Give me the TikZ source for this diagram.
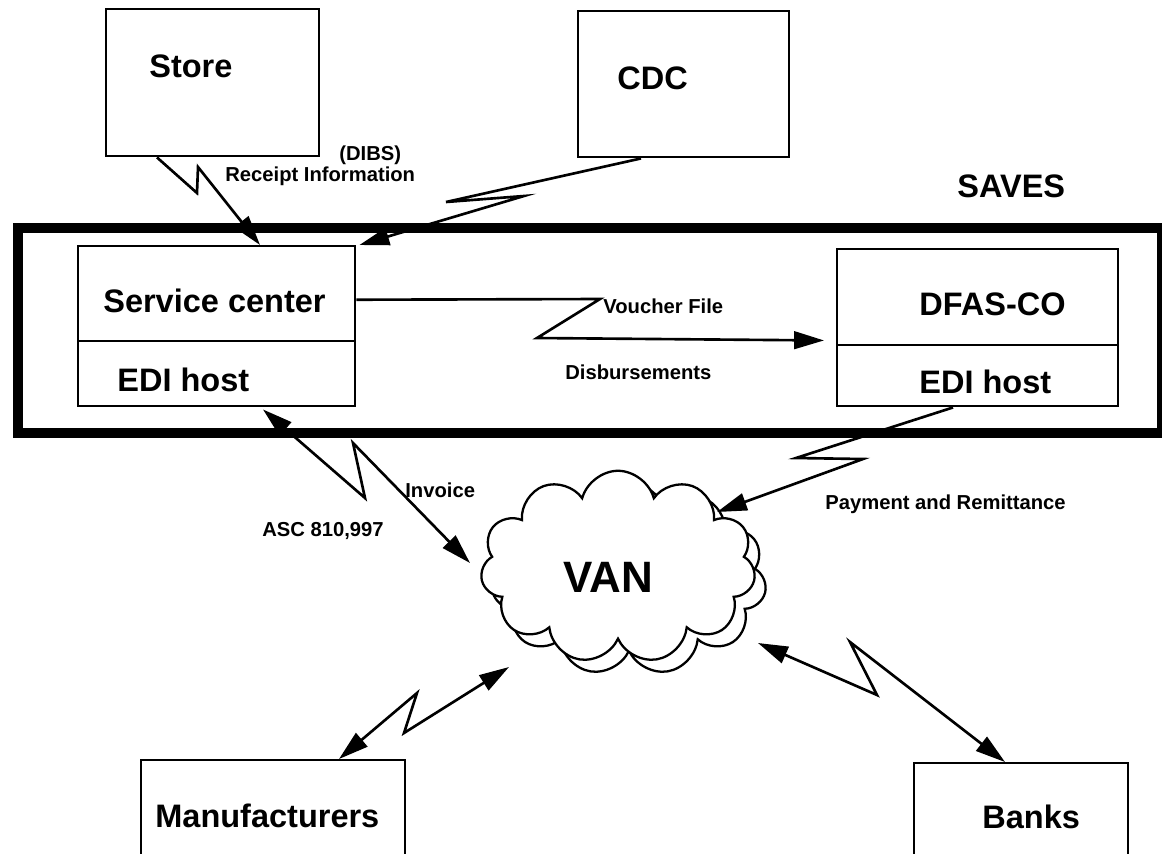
\documentclass[tikz,border=0pt]{standalone}
\usepackage{fontspec}
\setmainfont{Liberation Sans}
\usetikzlibrary{arrows.meta,calc,shapes.symbols}

\tikzset{
  box/.style={draw, line width=1.4pt, inner sep=0pt, anchor=north west},
  bigtxt/.style={font=\bfseries\fontsize{18.5}{20}\selectfont, inner sep=0pt, anchor=base west},
  smalltxt/.style={font=\bfseries\fontsize{11.5}{13}\selectfont, inner sep=0pt, anchor=base west},
  bolt/.style={line width=1.5pt, -{Triangle[length=17pt,width=10pt]}},
  bolttwo/.style={line width=1.5pt, {Triangle[length=17pt,width=10pt]}-{Triangle[length=17pt,width=10pt]}},
  vancloud/.style={cloud, draw, fill=white, line width=1.3pt, cloud puffs=11, aspect=1.43, minimum width=5.5cm, minimum height=3.85cm},
}

\begin{document}
\begin{tikzpicture}[x=0.02cm, y=-0.02cm]
\useasboundingbox (0,0) rectangle (1162,853);

% SAVES frame
\node[draw, line width=5.5pt, inner sep=0pt, anchor=north west, minimum width=22.88cm, minimum height=4.1cm] (saves) at (13,223) {};
\node[bigtxt] (savestxt) at (957,197) {SAVES};

% outside boxes
\node[box, minimum width=4.26cm, minimum height=2.94cm] (store) at (105,8) {};
\node[bigtxt] (storetxt) at (149,77) {Store};
\node[box, minimum width=4.22cm, minimum height=2.92cm] (cdc) at (577,10) {};
\node[bigtxt] (cdctxt) at (617,89) {CDC};
\node[box, minimum width=5.28cm, minimum height=2.2cm] (manuf) at (140,759) {};
\node[bigtxt] (manuftxt) at (155,827) {Manufacturers};
\node[box, minimum width=4.28cm, minimum height=2.2cm] (banks) at (913,762) {};
\node[bigtxt] (bankstxt) at (982,828) {Banks};

% boxes inside SAVES
\node[box, minimum width=5.54cm, minimum height=1.9cm] (svctop) at (77,245) {};
\node[box, minimum width=5.54cm, minimum height=1.3cm] (svcedi) at (77,340) {};
\node[bigtxt] (svctxt) at (103,312) {Service center};
\node[bigtxt] (svcedtxt) at (117,391) {EDI host};
\node[box, minimum width=5.62cm, minimum height=1.92cm] (dfastop) at (836,248) {};
\node[box, minimum width=5.62cm, minimum height=1.22cm] (dfasedi) at (836,344) {};
\node[bigtxt] (dfastxt) at (919,315) {DFAS-CO};
\node[bigtxt] (dfasedtxt) at (919,393) {EDI host};

% VAN cloud
\node[vancloud] (vanback) at (629,579) {};
\node[vancloud] (van) at (618,567) {};
\node[font=\bfseries\fontsize{25}{27}\selectfont, inner sep=0pt, anchor=base west] (vantxt) at (563,592) {VAN};

% links
\draw[bolt] ($(store.south west)+(52,0)$) -- (197,193) -- (198,167) -- ($(svctop.north west)+(183,0)$);
\draw[bolt] ($(cdc.south west)+(64,0)$) -- (446,202) -- (524,196) -- ($(svctop.north east)+(3,0)$);
\draw[bolt] ($(svctop.east)+(0,6)$) -- (600,299) -- (537,338) -- ($(dfastop.south west)+(-12,-6)$);
\draw[bolttwo] ($(svcedi.south west)+(186,2)$) -- (365,498) -- (353,443) -- ($(van.center)+(-148,-4)$);
\draw[bolt] ($(dfasedi.south west)+(117,0)$) -- (796,458) -- (863,459) -- ($(van.center)+(99,-55)$);
\draw[bolttwo] ($(manuf.north west)+(199,0)$) -- (417,693) -- (404,733) -- ($(van.center)+(-109,100)$);
\draw[bolttwo] ($(van.center)+(140,76)$) -- (877,695) -- (850,642) -- ($(banks.north west)+(92,0)$);

% labels
\node[smalltxt] (dibs) at (339,160) {(DIBS)};
\node[smalltxt] (receipt) at (225,181) {Receipt Information};
\node[smalltxt] (voucher) at (603,313) {Voucher File};
\node[smalltxt] (disb) at (565,379) {Disbursements};
\node[smalltxt] (invoice) at (405,497) {Invoice};
\node[smalltxt] (asc) at (262,536) {ASC 810,997};
\node[smalltxt] (payment) at (825,509) {Payment and Remittance};
\end{tikzpicture}
\end{document}
